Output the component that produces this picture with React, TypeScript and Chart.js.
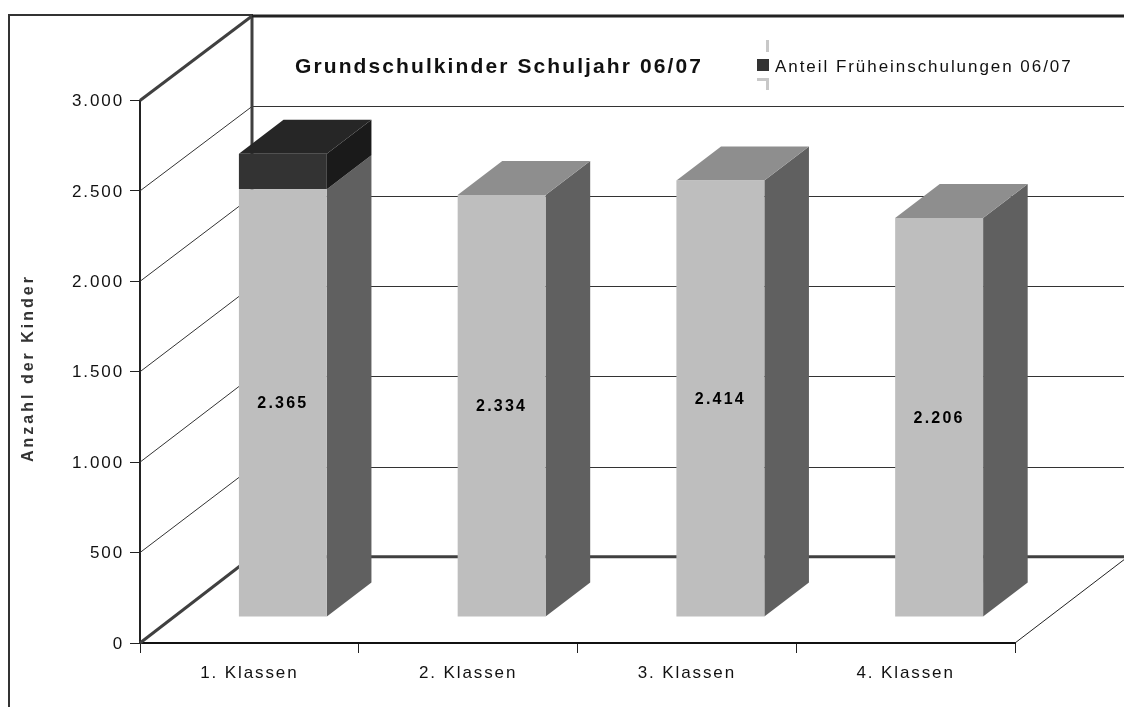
import React, { useEffect, useRef } from "react";
import { Chart, registerables } from "chart.js";

Chart.register(...registerables);

const categories = ["1. Klassen", "2. Klassen", "3. Klassen", "4. Klassen"];
const grundschulkinder = [2365, 2334, 2414, 2206];
const frueheinschulungen = [197, 0, 0, 0];
const valueLabels = ["2.365", "2.334", "2.414", "2.206"];
const chartTitle = "Grundschulkinder Schuljahr 06/07";
const legendLabel = "Anteil Früheinschulungen 06/07";
const yAxisTitle = "Anzahl der Kinder";

const FONT = '"Liberation Sans", Arial, sans-serif';
const DARK = "#333333";
const WALL_DX = 112;
const BAR_SHIFT_X = 33.5;
const BAR_SHIFT_Y = 26;
const BAR_DX = 44.6;
const BAR_DY = 34;

const faces = [
  { side: "#606060", top: "#8e8e8e" },
  { side: "#1a1a1a", top: "#262626" },
];

function line(ctx: any, pts: number[][], color: string, width: number) {
  ctx.beginPath();
  pts.forEach((p, i) => (i ? ctx.lineTo(p[0], p[1]) : ctx.moveTo(p[0], p[1])));
  ctx.strokeStyle = color;
  ctx.lineWidth = width;
  ctx.stroke();
}

function poly(ctx: any, pts: number[][], color: string) {
  ctx.beginPath();
  pts.forEach((p, i) => (i ? ctx.lineTo(p[0], p[1]) : ctx.moveTo(p[0], p[1])));
  ctx.closePath();
  ctx.fillStyle = color;
  ctx.fill();
}

const scene3d = {
  id: "scene3d",
  beforeLayout(chart: any) {
    chart.ctx.letterSpacing = "1.9px";
  },
  beforeDraw(chart: any) {
    const ctx = chart.ctx;
    ctx.letterSpacing = "1.9px";
    ctx.lineCap = "butt";
    // outer frame
    line(ctx, [[9, 707], [9, 15], [253, 15]], DARK, 2);
  },
  beforeDatasetsDraw(chart: any) {
    const ctx = chart.ctx;
    const y = chart.scales.y;
    const x = chart.scales.x;
    const left = x.left;
    const W = chart.width;
    const backY = (v: number) => {
      const py = y.getPixelForValue(v);
      return py - (84.5 + ((py - y.top) / (y.bottom - y.top)) * 1.8);
    };
    const backX = left + WALL_DX;

    // walls: thin grid lines
    y.ticks.forEach((t: any) => {
      const v = t.value;
      if (v === 0 || v === 3000) return;
      const py = y.getPixelForValue(v);
      const by = Math.round(backY(v)) + 0.5;
      line(ctx, [[left, py], [backX, by], [W, by]], DARK, 1);
    });
    // floor right edge
    line(ctx, [[x.right, y.bottom], [W, backY(0) + 3]], "#222222", 1);
    // heavy edges
    line(ctx, [[backX, backY(3000)], [backX, backY(0)]], "#404040", 3);
    line(ctx, [[left, y.top], [backX, backY(3000)]], "#404040", 3);
    line(ctx, [[left, y.bottom], [backX, backY(0)]], "#404040", 3);
    line(ctx, [[backX, backY(3000)], [W, backY(3000)]], "#222222", 3);
    line(ctx, [[backX, backY(0)], [W, backY(0)]], "#404040", 3);

    // bar side and top faces
    const metas = chart.getSortedVisibleDatasetMetas();
    categories.forEach((_, i) => {
      let topEl: any = null;
      let topDs = 0;
      metas.forEach((meta: any, ds: number) => {
        const el = meta.data[i];
        if (!el || Math.abs(el.base - el.y) < 0.5) return;
        const r = el.x + el.width / 2 + BAR_SHIFT_X;
        const a = el.y - BAR_SHIFT_Y;
        const b = el.base - BAR_SHIFT_Y;
        poly(ctx, [[r, a], [r + BAR_DX, a - BAR_DY], [r + BAR_DX, b - BAR_DY], [r, b]], faces[ds].side);
        topEl = el;
        topDs = ds;
      });
      if (topEl) {
        const l = topEl.x - topEl.width / 2 + BAR_SHIFT_X;
        const r = topEl.x + topEl.width / 2 + BAR_SHIFT_X;
        const a = topEl.y - BAR_SHIFT_Y;
        poly(ctx, [[l, a], [r, a], [r + BAR_DX, a - BAR_DY], [l + BAR_DX, a - BAR_DY]], faces[topDs].top);
      }
    });
  },
  beforeDatasetDraw(chart: any) {
    chart.ctx.save();
    chart.ctx.translate(BAR_SHIFT_X, -BAR_SHIFT_Y);
  },
  afterDatasetDraw(chart: any) {
    chart.ctx.restore();
  },
  afterDatasetsDraw(chart: any) {
    const ctx = chart.ctx;
    const meta = chart.getDatasetMeta(0);
    ctx.save();
    ctx.textAlign = "center";
    ctx.textBaseline = "middle";
    ctx.fillStyle = "#000000";
    ctx.font = `bold 16px ${FONT}`;
    ctx.letterSpacing = "2.2px";
    meta.data.forEach((el: any, i: number) => {
      ctx.fillText(valueLabels[i], el.x + BAR_SHIFT_X, (el.y + el.base) / 2 - BAR_SHIFT_Y + 1);
    });
    // title
    ctx.textAlign = "left";
    ctx.font = `bold 21px ${FONT}`;
    ctx.letterSpacing = "2.1px";
    ctx.fillStyle = "#111111";
    ctx.fillText(chartTitle, 295, 67);
    // legend
    ctx.font = `17px ${FONT}`;
    ctx.letterSpacing = "1.95px";
    ctx.fillStyle = "#111111";
    ctx.fillText(legendLabel, 775, 67);
    ctx.fillStyle = DARK;
    ctx.fillRect(757, 59, 12, 12);
    line(ctx, [[767.5, 40], [767.5, 52]], "#c8c8c8", 3);
    line(ctx, [[757, 79.5], [767.5, 79.5], [767.5, 90]], "#c8c8c8", 3);
    // y axis title
    ctx.translate(29, 368);
    ctx.rotate(-Math.PI / 2);
    ctx.textAlign = "center";
    ctx.font = `bold 16px ${FONT}`;
    ctx.letterSpacing = "3px";
    ctx.fillText(yAxisTitle, 0, 0);
    ctx.restore();
  },
};

export default function App() {
  const ref = useRef<HTMLCanvasElement>(null);
  useEffect(() => {
    const chart = new Chart(ref.current as HTMLCanvasElement, {
      type: "bar",
      data: {
        labels: categories,
        datasets: [
          {
            label: "Grundschulkinder",
            data: grundschulkinder,
            backgroundColor: "#bebebe",
            borderWidth: 0,
            barPercentage: 0.402,
            categoryPercentage: 1,
            clip: false,
          },
          {
            label: legendLabel,
            data: frueheinschulungen,
            backgroundColor: DARK,
            borderWidth: 0,
            barPercentage: 0.402,
            categoryPercentage: 1,
            clip: false,
          },
        ],
      },
      options: {
        animation: false,
        responsive: false,
        layout: { padding: { left: 0, top: 100.5, right: 109, bottom: 0 } },
        plugins: { legend: { display: false }, title: { display: false }, tooltip: { enabled: false } },
        scales: {
          x: {
            stacked: true,
            afterFit: (s: any) => {
              s.height = 64;
            },
            grid: { drawOnChartArea: false, tickLength: 10, color: "#222222", lineWidth: 1, offset: true },
            border: { color: "#111111", width: 2 },
            ticks: {
              color: "#111111",
              padding: 10,
              font: { family: FONT, size: 17 },
              maxRotation: 0,
            },
          },
          y: {
            stacked: true,
            min: 0,
            max: 3000,
            afterFit: (s: any) => {
              s.width = 140;
            },
            grid: { drawOnChartArea: false, tickLength: 10, color: "#222222", lineWidth: 1 },
            border: { color: "#222222", width: 2 },
            ticks: {
              stepSize: 500,
              color: "#111111",
              padding: 6,
              labelOffset: 1,
              font: { family: FONT, size: 17 },
              callback: (v: any) => Number(v).toLocaleString("de-DE"),
            },
          },
        },
      },
      plugins: [scene3d],
    } as any);
    return () => chart.destroy();
  }, []);
  return (
    <canvas
      ref={ref}
      width={1124}
      height={707}
      style={{ position: "absolute", left: 0, top: 0, width: 1124, height: 707, background: "#ffffff", display: "block" }}
    />
  );
}
